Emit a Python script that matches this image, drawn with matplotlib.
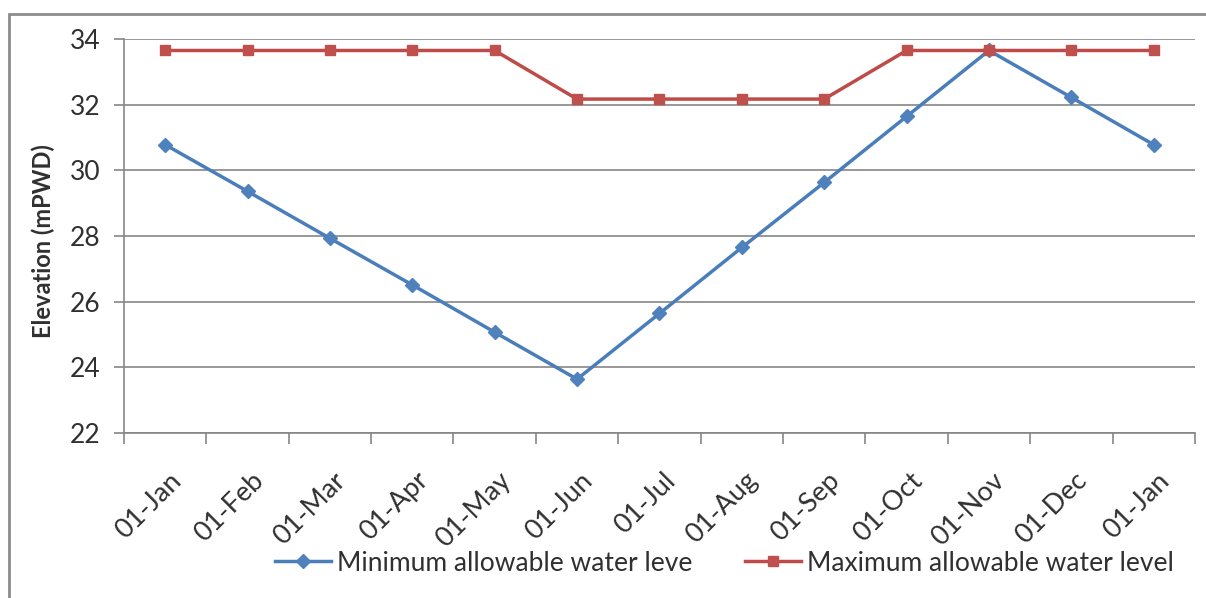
import numpy as np
import matplotlib.pyplot as plt
from matplotlib.patches import Rectangle
from matplotlib.transforms import ScaledTranslation

# datos
months = ['01-Jan', '01-Feb', '01-Mar', '01-Apr', '01-May', '01-Jun', '01-Jul',
          '01-Aug', '01-Sep', '01-Oct', '01-Nov', '01-Dec', '01-Jan']
min_level = [30.78, 29.36, 27.93, 26.51, 25.07, 23.64, 25.64,
             27.65, 29.63, 31.64, 33.65, 32.22, 30.78]
max_level = [33.65, 33.65, 33.65, 33.65, 33.65, 32.17, 32.17,
             32.17, 32.17, 33.65, 33.65, 33.65, 33.65]

plt.rcParams['font.family'] = ['Lato', 'DejaVu Sans']
grey = '#868686'
txt = '#303030'

fig = plt.figure(figsize=(12.06, 5.98), dpi=100)
ax = fig.add_axes([0.1028, 0.2759, 0.888, 0.6589])

x = np.arange(len(months))
ax.plot(x, min_level, color='#4A7EBB', lw=2.5, marker='D', ms=7,
        mfc='#4F81BD', mec='#4F81BD', label='Minimum allowable water leve')
ax.plot(x, max_level, color='#BE4B48', lw=2.5, marker='s', ms=7,
        mfc='#C0504D', mec='#C0504D', label='Maximum allowable water level')

ax.set_xlim(-0.5, len(months) - 0.5)
ax.set_ylim(22, 34)
ax.set_yticks(np.arange(22, 35, 2))
ax.yaxis.grid(True, color=grey, lw=1.2)
ax.set_axisbelow(True)

# ticks entre categorias, etiquetas en el centro
ax.set_xticks(np.arange(-0.5, len(months), 1))
ax.set_xticklabels([])
ax.set_xticks(x, minor=True)
ax.set_xticklabels(months, minor=True, rotation=45, ha='right',
                   rotation_mode='anchor', fontsize=19.5, color=txt)
ax.tick_params(axis='x', which='major', length=8, color=grey, width=1.2)
ax.tick_params(axis='x', which='minor', length=0, pad=25)
shift = ScaledTranslation(3 / 100, 0, fig.dpi_scale_trans)
for lab in ax.get_xticklabels(minor=True):
    lab.set_transform(lab.get_transform() + shift)
ax.tick_params(axis='y', length=7, color=grey, width=1.2, labelsize=19,
               labelcolor=txt, pad=10)

for s in ['top', 'right']:
    ax.spines[s].set_visible(False)
for s in ['left', 'bottom']:
    ax.spines[s].set_color(grey)
    ax.spines[s].set_linewidth(1.2)

ax.set_ylabel('Elevation (mPWD)', fontsize=17, fontweight='bold', color=txt)
ax.yaxis.set_label_coords(-0.064, 0.487)

fig.legend(loc='center', bbox_to_anchor=(0.601, 0.0585), ncol=2, frameon=False,
           fontsize=19, handlelength=2.1, handletextpad=0.25, columnspacing=2.0,
           labelcolor=txt)

# borde del grafico
fig.add_artist(Rectangle((0.0075, -0.1), 1.1, 1.0766, transform=fig.transFigure,
                         fill=False, edgecolor='#8c8c8c', lw=2))

fig.savefig('out.png', dpi=100)
